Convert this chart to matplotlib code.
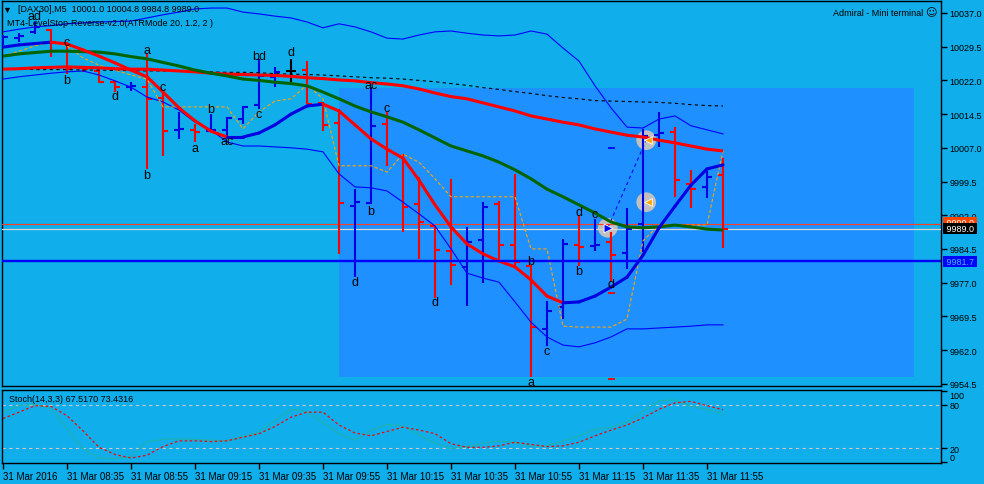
import matplotlib
matplotlib.use('Agg')
import matplotlib.pyplot as plt
import matplotlib.transforms as mtransforms
from matplotlib.collections import LineCollection
from matplotlib.patches import Rectangle
import numpy as np

# ---------------- data ----------------
opens = [10031.2, 10031.4, 10032.8, 10033.2, 10030.1, 10024.8, 10024.1, 10021.6, 10020.5, 10020.5,
         10018.1, 10011.0, 10011.0, 10010.7, 10011.0, 10013.4, 10016.5, 10022.8, 10024.1, 10024.3,
         10017.0, 10012.5, 9994.0, 9994.7, 10012.3, 10005.2, 9994.5, 9989.6, 9984.0, 9980.5,
         9986.5, 9994.5, 9985.4, 9980.7, 9966.7, 9971.6, 9985.4, 9985.1, 9986.0, 9983.6,
         9990.0, 10009.8, 10010.5, 9998.9, 9998.3, 10001.0]
highs = [10032.1, 10032.5, 10035.0, 10033.4, 10030.5, 10025.2, 10024.5, 10021.9, 10021.6, 10027.9,
         10019.4, 10015.0, 10012.3, 10014.5, 10013.9, 10016.3, 10026.8, 10025.0, 10026.8, 10026.3,
         10017.2, 10015.6, 9997.8, 10020.5, 10015.0, 10005.6, 10000.5, 9989.6, 10000.1, 9989.4,
         9994.9, 9995.2, 10001.2, 9980.9, 9972.9, 9986.7, 9991.8, 9991.2, 9988.3, 9993.6,
         10011.2, 10015.0, 10011.6, 10002.1, 10001.8, 10004.8]
lows = [10029.9, 10030.5, 10032.3, 10027.2, 10023.4, 10023.9, 10021.4, 10019.4, 10019.6, 10002.3,
        10005.2, 10009.0, 10008.3, 10010.5, 10009.6, 10012.3, 10015.6, 10020.5, 10021.6, 10016.7,
        10010.7, 9983.4, 9978.2, 9994.5, 10003.0, 9988.3, 9982.3, 9973.6, 9976.5, 9971.8,
        9976.9, 9981.8, 9980.5, 9956.0, 9962.9, 9968.9, 9980.7, 9984.0, 9977.4, 9980.0,
        9983.8, 10007.2, 9996.1, 9993.6, 9995.8, 9984.8]
closes = [10031.7, 10031.9, 10033.9, 10030.5, 10024.5, 10024.5, 10021.6, 10020.5, 10020.7, 10017.9,
          10010.7, 10011.2, 10010.5, 10011.0, 10013.6, 10016.1, 10023.0, 10023.9, 10024.1, 10016.7,
          10012.1, 9994.7, 9994.9, 10011.9, 10006.3, 9993.8, 9990.5, 9984.3, 9980.9, 9986.0,
          9993.8, 9985.4, 9981.6, 9967.1, 9970.7, 9985.6, 9984.9, 9985.4, 9983.1, 9988.9,
          10009.6, 10010.3, 9999.8, 9997.8, 10000.5, 9989.0]

fast_ma = [10029.4, 10029.9, 10030.2, 10030.5, 10030.1, 10028.8, 10027.4, 10025.9, 10024.3, 10022.8,
           10019.4, 10015.9, 10013.0, 10010.7, 10009.4, 10009.4, 10010.3, 10012.1, 10014.5, 10016.3,
           10016.7, 10015.2, 10012.1, 10009.0, 10006.7, 10004.7, 9999.8, 9994.3, 9989.4, 9985.6,
           9983.4, 9981.8, 9980.5, 9977.6, 9974.0, 9972.5, 9972.7, 9974.0, 9976.0, 9978.2,
           9983.1, 9989.2, 9994.0, 9998.7, 10002.3, 10003.2]
slow_ma = [10024.5, 10024.6, 10024.8, 10024.9, 10025.0, 10024.9, 10024.8, 10024.6, 10024.5, 10024.5,
           10024.3, 10024.1, 10023.9, 10023.6, 10023.4, 10023.3, 10023.2, 10023.1, 10022.9, 10022.6,
           10022.4, 10022.1, 10021.9, 10021.5, 10021.2, 10020.8, 10020.1, 10019.2, 10018.4, 10017.9,
           10017.0, 10016.1, 10015.2, 10014.1, 10013.4, 10012.7, 10012.1, 10011.2, 10010.5, 10009.8,
           10009.4, 10008.7, 10008.1, 10007.4, 10006.7, 10006.3]
green_ma = [10027.4, 10027.9, 10028.2, 10028.5, 10028.5, 10028.4, 10028.3, 10027.9, 10027.3, 10026.8,
            10026.0, 10025.2, 10024.3, 10023.6, 10023.0, 10022.3, 10022.0, 10021.6, 10021.3, 10020.8,
            10019.4, 10017.9, 10016.3, 10015.0, 10013.9, 10012.7, 10011.0, 10009.2, 10007.4, 10006.3,
            10005.2, 10003.8, 10002.1, 10000.1, 9997.8, 9996.1, 9994.3, 9992.5, 9990.5, 9989.4,
            9989.2, 9989.4, 9989.8, 9989.4, 9988.9, 9988.7]
dash_ma = [10024.5, 10024.5, 10024.4, 10024.4, 10024.4, 10024.3, 10024.3, 10024.2, 10024.2, 10024.1,
           10024.1, 10024.0, 10024.0, 10023.9, 10023.8, 10023.8, 10023.7, 10023.5, 10023.4, 10023.3,
           10023.2, 10023.0, 10022.8, 10022.6, 10022.5, 10022.3, 10022.0, 10021.7, 10021.3, 10020.9,
           10020.4, 10020.0, 10019.5, 10019.1, 10018.6, 10018.2, 10017.9, 10017.5, 10017.4, 10017.3,
           10017.2, 10017.1, 10016.9, 10016.6, 10016.4, 10016.3]
band_up = [10032.8, 10033.4, 10033.9, 10034.2, 10034.6, 10034.8, 10035.0, 10035.1, 10035.2, 10035.9,
           10036.6, 10037.2, 10037.9, 10038.1, 10038.1, 10037.2, 10036.8, 10036.3, 10035.9, 10035.0,
           10033.7, 10034.6, 10033.9, 10032.8, 10031.4, 10031.2, 10032.1, 10032.8, 10033.0, 10032.5,
           10032.1, 10031.9, 10032.1, 10033.0, 10032.3, 10029.2, 10026.3, 10020.8, 10015.9, 10011.6,
           10011.4, 10013.4, 10014.1, 10011.9, 10011.0, 10010.1]
band_dn = [10022.3, 10022.8, 10023.2, 10023.6, 10023.9, 10024.1, 10023.2, 10021.9, 10020.5, 10018.3,
           10017.2, 10015.4, 10012.7, 10011.0, 10008.3, 10007.4, 10007.4, 10007.2, 10007.0, 10006.7,
           10006.1, 10001.2, 9998.3, 9998.1, 9997.4, 9994.9, 9992.3, 9989.6, 9984.5, 9979.1,
           9978.0, 9977.1, 9972.7, 9968.2, 9964.9, 9963.1, 9962.7, 9963.6, 9964.9, 9966.7,
           9966.7, 9966.9, 9967.1, 9967.3, 9967.6, 9967.6]
level_stop = [10027.4, 10028.5, 10029.7, 10030.5, 10029.7, 10027.0, 10025.4, 10024.3, 10023.2, 10022.3,
              10016.1, 10016.1, 10016.1, 10016.1, 10016.1, 10011.2, 10015.0, 10017.4, 10017.9, 10021.0,
              10017.9, 10003.0, 10003.0, 10003.0, 10001.6, 10005.6, 10003.8, 10000.1, 9996.1, 9996.1,
              9996.1, 9996.1, 9996.1, 9984.5, 9984.5, 9967.3, 9967.1, 9967.1, 9967.1, 9968.9,
              9986.3, 9989.8, 9989.8, 9989.8, 9989.8, 10006.3]

stoch_k = [70, 79, 81, 75, 47, 19, 6, 5, 8, 29, 32, 33, 32, 31, 30, 36, 42, 58, 74, 71,
           55, 40, 31, 45, 53, 51, 38, 27, 19, 22, 27, 30, 28, 23, 23, 30, 37, 46, 49, 56,
           71, 86, 87, 78, 74, 67.517]
stoch_d = [61, 70, 79, 78, 65, 44, 21, 11, 6, 10, 22, 30, 30, 29, 30, 35, 40, 50, 63, 70,
           70, 52, 41, 37, 43, 49, 45, 40, 26, 21, 21, 23, 28, 25, 22, 23, 28, 37, 45, 52,
           62, 74, 83, 85, 79, 73.4316]

time_labels = ["31 Mar 2016", "31 Mar 08:35", "31 Mar 08:55", "31 Mar 09:15", "31 Mar 09:35",
               "31 Mar 09:55", "31 Mar 10:15", "31 Mar 10:35", "31 Mar 10:55", "31 Mar 11:15",
               "31 Mar 11:35", "31 Mar 11:55"]
price_ticks = [10037.0, 10029.5, 10022.0, 10014.5, 10007.0, 9999.5, 9992.0, 9984.5, 9977.0,
               9969.5, 9962.0, 9954.5]

# pattern letters: (bar index, price, text)
letter_idx = [2, 4, 4, 7, 9, 9, 10, 12, 13, 14, 16, 16, 18, 23, 24, 22, 23, 27, 33, 33, 34, 36, 36, 37, 38]
letter_price = [10036.3, 10030.6, 10022.1, 10018.5, 10028.8, 10000.9, 10020.5, 10007.0, 10015.6, 10008.5,
                10027.4, 10014.5, 10028.3, 10021.0, 10015.9, 9977.1, 9992.9, 9972.7, 9981.8, 9954.9,
                9961.8, 9992.7, 9979.6, 9992.3, 9976.7]
letter_text = ["ad", "c", "b", "d", "a", "b", "c", "a", "b", "ac", "bd", "c", "d", "ac", "c", "d", "b",
               "d", "b", "a", "c", "d", "b", "c", "d"]

# objects
box_x = [21.0, 56.94]
box_price = [9956.0, 10020.3]
circle_x = [37.8, 40.2, 40.2]
circle_price = [9989.2, 10008.7, 9994.9]
dash_marks_price = [10007.0, 9974.7, 9955.5]
dash_marks_color = ['#0000FF', '#FF0000', '#FF0000']
dash_marks_x = 38.06
ask_price = 9990.0
bid_price = 9989.0
hline_price = 9981.7

# ---------------- style ----------------
BG = '#10AEEA'
BOX = '#1E90FF'
BLUE = '#0000E0'
RED = '#FF0000'
plt.rcParams['font.family'] = ['Liberation Sans', 'DejaVu Sans']

W, H = 984, 485
fig = plt.figure(figsize=(W / 100, H / 100), dpi=100)
fig.patch.set_facecolor(BG)


def rect(x0, y0, x1, y1):
    return [x0 / W, 1 - y1 / H, (x1 - x0) / W, (y1 - y0) / H]


ax = fig.add_axes(rect(2, 2, 941, 387))
ax2 = fig.add_axes(rect(2, 391, 941, 464))
for a in (ax, ax2):
    a.set_facecolor(BG)
    for s in a.spines.values():
        s.set_color('black')
        s.set_linewidth(1.0)
    a.set_xlim(-0.0625, 58.625)

idx = np.arange(len(opens))
o = np.array(opens); h = np.array(highs); l = np.array(lows); c = np.array(closes)

# rectangle object
ax.add_patch(Rectangle((box_x[0], box_price[0]), box_x[1] - box_x[0], box_price[1] - box_price[0],
                       facecolor=BOX, edgecolor='none', zorder=0))

# circles (objects)
ax.scatter(circle_x, circle_price, s=200, color='#C0C0C0', edgecolors='none', zorder=2)

# bars
cols = np.where(c > o, BLUE, np.where(c < o, RED, 'black'))
ax.vlines(idx, l, h, colors=cols, lw=1.5, zorder=4)
ax.hlines(o, idx - 0.3, idx, colors=cols, lw=1.5, zorder=4)
ax.hlines(c, idx, idx + 0.3, colors=cols, lw=1.5, zorder=4)

# indicator lines
ax.plot(idx, band_up, color='#0000FF', lw=0.8, zorder=5)
ax.plot(idx, band_dn, color='#0000FF', lw=0.8, zorder=5)
ax.plot(idx, dash_ma, color='black', lw=0.8, ls=(0, (3, 3)), zorder=5)
ax.plot(idx, level_stop, color='#FFA500', lw=0.8, ls=(0, (3, 2)), zorder=5)
ax.plot(idx, slow_ma, color='#FF0000', lw=2.2, zorder=6, solid_capstyle='butt')
ax.plot(idx, green_ma, color='#006400', lw=2.2, zorder=6, solid_capstyle='butt')
fm = np.array(fast_ma)
pts = np.column_stack([idx, fm])
segs = np.stack([pts[:-1], pts[1:]], axis=1)
seg_cols = [BLUE if fm[i + 1] >= fm[i] else RED for i in range(len(fm) - 1)]
ax.add_collection(LineCollection(segs, colors=seg_cols, linewidths=2.2, zorder=7, capstyle='round'))

# dashed connector between circles
ax.plot(circle_x[:2], circle_price[:2], color='#0000FF', lw=0.8, ls=(0, (3, 3)), zorder=5)
ax.scatter([circle_x[0]], [circle_price[0]], marker='>', s=40, color='#0000FF',
           edgecolors='white', linewidths=0.6, zorder=8)
ax.scatter([circle_x[1] + 0.1, circle_x[2] + 0.1], circle_price[1:], marker='<', s=30, color='#FFA500',
           edgecolors='white', linewidths=0.6, zorder=8)
for pr, cl in zip(dash_marks_price, dash_marks_color):
    ax.hlines(pr, dash_marks_x - 0.22, dash_marks_x + 0.22, colors=cl, lw=1.3, zorder=8)

# horizontal lines
ax.axhline(ask_price, color='#FF4020', lw=0.8, zorder=3)
ax.axhline(bid_price, color='#D8D8D8', lw=0.9, zorder=3)
ax.axhline(hline_price, color='#0000FF', lw=1.7, zorder=9)

# letters
for xi, pr, t in zip(letter_idx, letter_price, letter_text):
    ax.text(xi, pr, t, fontsize=9, ha='center', va='center', color='black', zorder=10)

ax.set_ylim(9953.99, 10039.67)
ax.yaxis.tick_right()
ax.set_yticks(price_ticks)
ax.set_yticklabels([f"{p:.1f}" for p in price_ticks])
ax.tick_params(axis='y', direction='out', length=4, width=1, pad=2, labelsize=6.5, colors='black')
ax.set_xticks([])

# price labels on axis
tr = mtransforms.blended_transform_factory(ax.transAxes, ax.transData)
ax.text(1.003, ask_price + 0.4, f" {ask_price:.1f} ", transform=tr, fontsize=6.5, ha='left', va='center',
        color='white', bbox=dict(boxstyle='square,pad=0.1', fc='#FF4500', ec='none'), zorder=20, clip_on=False)
ax.text(1.003, bid_price, f" {bid_price:.1f} ", transform=tr, fontsize=6.5, ha='left', va='center',
        color='white', bbox=dict(boxstyle='square,pad=0.1', fc='black', ec='none'), zorder=21, clip_on=False)
ax.text(1.003, hline_price, f" {hline_price:.1f} ", transform=tr, fontsize=6.5, ha='left', va='center',
        color='#40B8FF', bbox=dict(boxstyle='square,pad=0.1', fc='#0000FF', ec='none'), zorder=21, clip_on=False)

# header texts
fig.text(7 / W, 1 - 10 / H, "\u25bc", fontsize=6.5, ha='center', va='center', color='black')
fig.text(18 / W, 1 - 10 / H,
         f"[DAX30],M5  {opens[-1]:.1f} {highs[-1]:.1f} {lows[-1]:.1f} {closes[-1]:.1f}",
         fontsize=6.5, ha='left', va='center', color='black')
fig.text(7 / W, 1 - 24 / H, "MT4-LevelStop-Reverse-v2.0(ATRMode 20, 1.2, 2 )",
         fontsize=6.5, ha='left', va='center', color='black')
fig.text(923 / W, 1 - 13 / H, "Admiral - Mini terminal", fontsize=6.5, ha='right', va='center',
         color='black')
fig.text(937 / W, 1 - 13 / H, "\u263a", fontsize=8, ha='right', va='center', color='black',
         family=['DejaVu Sans'])

# stochastic panel
ax2.axhline(80, color='#C8C8C8', lw=0.8, ls=(0, (3, 3)))
ax2.axhline(20, color='#C8C8C8', lw=0.8, ls=(0, (3, 3)))
ax2.plot(idx, stoch_k, color='#20B2AA', lw=0.8)
ax2.plot(idx, stoch_d, color='#FF0000', lw=0.9, ls=(0, (2, 2)))
ax2.set_ylim(-0.9, 100.9)
ax2.yaxis.tick_right()
ax2.set_yticks([100, 80, 20, 0])
ax2.set_yticklabels(['100', '80', '20', '0'])
ax2.tick_params(axis='y', direction='out', length=4, width=1, pad=2, labelsize=6.5, colors='black')
ylabs = ax2.get_yticklabels()
ylabs[0].set_va('top')
ylabs[3].set_va('bottom')
ax2.set_xticks(np.arange(0, len(time_labels) * 4, 4))
ax2.set_xticklabels(time_labels)
ax2.tick_params(axis='x', direction='out', length=4, width=1, pad=1.5, labelsize=7, colors='black')
for lab in ax2.get_xticklabels():
    lab.set_ha('left')
ax2.text(7 / 939, 0.88, f"Stoch(14,3,3) {stoch_k[-1]:.4f} {stoch_d[-1]:.4f}", transform=ax2.transAxes,
         fontsize=6.5, ha='left', va='center', color='black')

fig.savefig('out.png', dpi=100, facecolor=BG)
